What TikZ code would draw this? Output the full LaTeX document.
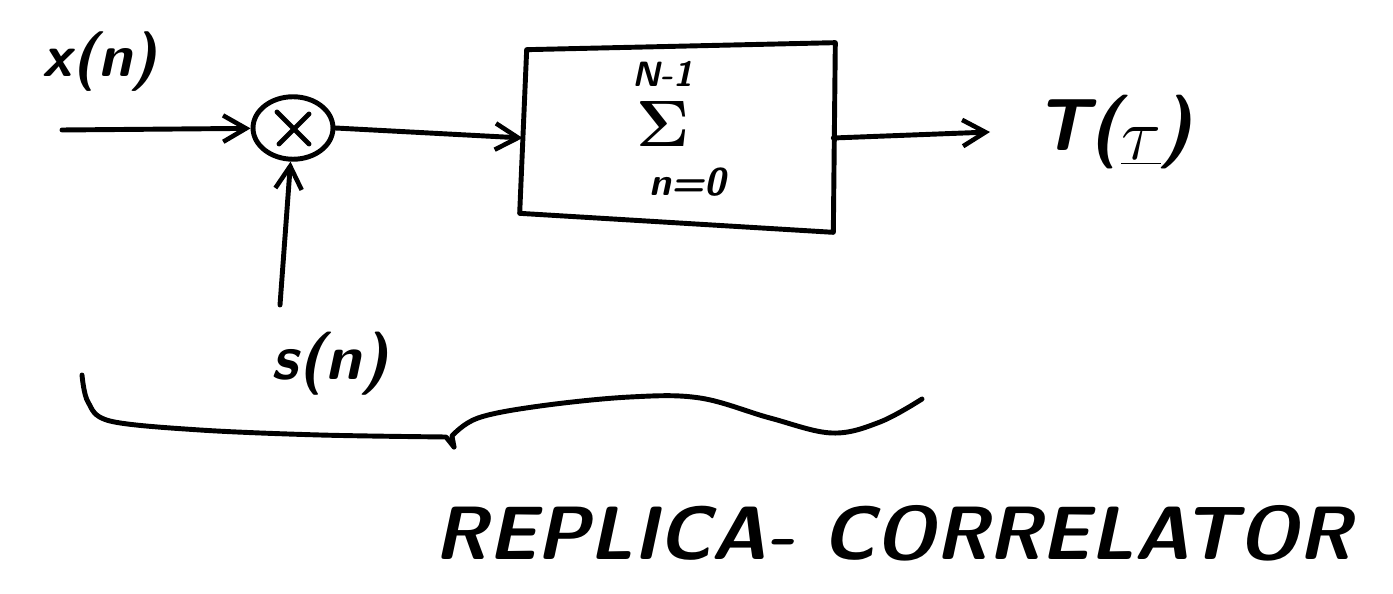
\documentclass[tikz,border=0pt]{standalone}
\usetikzlibrary{arrows.meta,calc,shapes.geometric}
\begin{document}
\begin{tikzpicture}[x=0.02cm,y=-0.02cm,line cap=round,line join=round,
  ink/.style={line width=2.8pt},
  wire/.style={ink,-{Straight Barb[length=13pt,width=15pt,line width=2.6pt]}},
  hand/.style={inner sep=0pt,font=\fontsize{#1}{#1}\selectfont\sffamily\bfseries\slshape},
  hand/.default=30]
\useasboundingbox (0,0) rectangle (1393,594);

% input signal and multiplier
\node[hand=34] (x) at (100,62) {x(n)};
\node[draw,ink,ellipse,minimum width=1.6cm,minimum height=1.25cm,inner sep=0pt] (mul) at (293,128) {};
\draw[ink] ($(mul.center)+(-16,-16)$) -- ($(mul.center)+(16,16)$)
           ($(mul.center)+(-14,16)$) -- ($(mul.center)+(16,-14)$);
\coordinate (xin) at (62,130);
\draw[wire] (xin) -- (mul);

% replica input
\node[hand=36] (s) at (330,364) {s(n)};
\coordinate (sin) at (280,305);
\draw[wire] (sin) -- (mul);

% summation block
\node[inner sep=0pt,minimum width=6.2cm,minimum height=3.6cm] (sum) at (678,138) {};
\draw[ink] ($(sum.north west)+(4,2)$) -- ($(sum.north east)+(2,-5)$)
  -- ($(sum.south east)+(0,4)$) -- ($(sum.south west)+(-3,-15)$) -- cycle;
\node[hand=20] (top) at (663,74) {N-1};
\node[inner sep=0pt,font=\fontsize{24}{24}\selectfont] (sig) at (663,124) {\scalebox{1.5}{$\mathbf{\Sigma}$}};
\node[hand=22] (bot) at (688,182) {n=0};
\draw[wire] (mul.east) -- (sum.west);

% output
\node[hand=42,anchor=west] (T) at (1035,132)
  {T(\raisebox{-0.12em}{\scalebox{1.7}{\fontsize{24}{24}\selectfont$\underline{\tau}$}})};
\coordinate (tout) at ($(T.west)+(-45,0)$);
\draw[wire] (sum.east) -- (tout);

% grouping brace
\coordinate (tip) at (454,447);
\draw[ink] plot[smooth,tension=0.55] coordinates {(82,375) (88,402) (110,421) (200,430) (320,435) (446,437)}
  -- (tip);
\draw[ink] (tip) -- (452,436) plot[smooth,tension=0.6] coordinates
  {(452,436) (478,418) (540,406) (630,397) (700,398) (770,418) (832,433) (880,422) (922,399)};
\node[hand=43] (title) at (893,533) {REPLICA- CORRELATOR};
\end{tikzpicture}
\end{document}
